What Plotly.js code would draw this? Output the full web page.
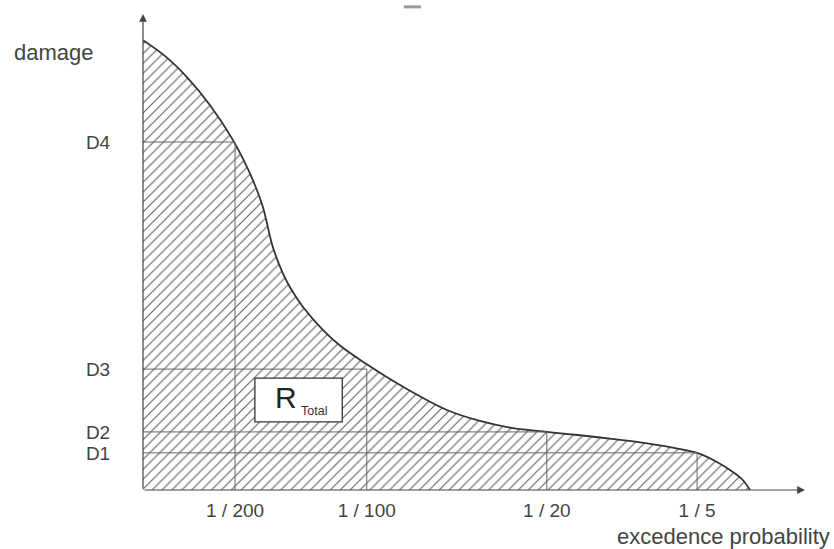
<!DOCTYPE html>
<html>
<head>
<meta charset="utf-8">
<script src="https://cdn.plot.ly/plotly-3.0.1.min.js"></script>
<style>html,body{margin:0;padding:0;background:#fff;}#chart{width:834px;height:549px;}</style>
</head>
<body>
<div id="chart"></div>
<script>
// Damage curve (arbitrary units, x: 0-100 probability scale, y: 0-100 damage scale)
const curveX = [0, 3.3, 6.6, 10.1, 13.6, 16.6, 18.1, 19.6, 21.1, 22.2, 24.2, 27.2, 29.8, 33.7, 37.3, 41.4, 45.9, 50.9, 55.9, 61.0, 66.0, 70.5, 75.1, 79.6, 83.7, 86.7, 89.1, 90.6, 91.7];
const curveY = [94.5, 91.2, 86.8, 80.9, 73.5, 65.1, 59.5, 51.1, 45.6, 42.6, 38.4, 33.6, 30.3, 26.5, 23.3, 20.0, 16.8, 14.5, 13.0, 12.2, 11.5, 10.8, 10.0, 9.0, 7.8, 5.9, 3.8, 2.1, 0];

// Probability ticks and damage levels
const probLabels = ["1 / 200", "1 / 100", "1 / 20", "1 / 5"];
const probPos = [13.9, 33.8, 61.0, 83.7];
const damageLabels = ["D4", "D3", "D2", "D1"];
const damageVals = [73.1, 25.4, 12.2, 7.8];

const traces = [];
traces.push({
  x: curveX, y: curveY, type: 'scatter', mode: 'lines',
  line: {color: '#333', width: 1.8, shape: 'spline', smoothing: 1},
  fill: 'tozeroy', fillcolor: 'rgba(0,0,0,0)',
  fillpattern: {shape: '/', fgcolor: '#666', bgcolor: 'white', size: 7, solidity: 0.17},
  hoverinfo: 'skip', showlegend: false
});
for (let i = 0; i < probPos.length; i++) {
  traces.push({
    x: [0, probPos[i], probPos[i]], y: [damageVals[i], damageVals[i], 0],
    type: 'scatter', mode: 'lines',
    line: {color: '#666', width: 1},
    hoverinfo: 'skip', showlegend: false
  });
}

const font = 'Liberation Sans, Arial, sans-serif';
const layout = {
  width: 834, height: 549,
  margin: {l: 143, r: 29, t: 14, b: 59},
  paper_bgcolor: 'white', plot_bgcolor: 'white',
  showlegend: false,
  xaxis: {
    range: [0, 100], showgrid: false, zeroline: false, showline: false,
    tickvals: probPos, ticktext: probLabels,
    ticks: 'outside', ticklen: 3, tickcolor: 'rgba(0,0,0,0)',
    tickfont: {family: font, size: 19, color: '#444'}
  },
  yaxis: {
    range: [0, 100], showgrid: false, zeroline: false, showline: false,
    tickvals: damageVals, ticktext: damageLabels,
    ticks: 'outside', ticklen: 28, tickcolor: 'rgba(0,0,0,0)',
    tickfont: {family: font, size: 19, color: '#444'}
  },
  shapes: [
    {type: 'rect', xref: 'x', yref: 'y', x0: 16.9, x1: 30.1, y0: 14.3, y1: 23.5,
     fillcolor: 'white', line: {color: '#333', width: 1.3}, layer: 'above'},
    {type: 'line', xref: 'paper', yref: 'paper', x0: 0.394, x1: 0.42, y0: 1.015, y1: 1.015,
     line: {color: '#999', width: 3}}
  ],
  annotations: [
    {xref: 'paper', yref: 'paper', x: 0, y: 1, ax: 0, ay: 476, axref: 'pixel', ayref: 'pixel',
     showarrow: true, arrowhead: 2, arrowsize: 1.3, arrowwidth: 1.2, arrowcolor: '#444', text: ''},
    {xref: 'paper', yref: 'paper', x: 1, y: 0, ax: -662, ay: 0, axref: 'pixel', ayref: 'pixel',
     showarrow: true, arrowhead: 2, arrowsize: 1.3, arrowwidth: 1.2, arrowcolor: '#444', text: ''},
    {xref: 'paper', yref: 'paper', x: -0.198, y: 0.920, xanchor: 'left', yanchor: 'middle',
     text: 'damage', showarrow: false, font: {family: font, size: 22, color: '#444'}},
    {xref: 'paper', yref: 'paper', x: 1.0408, y: -0.0987, xanchor: 'right', yanchor: 'middle',
     text: 'excedence probability', showarrow: false, font: {family: font, size: 22, color: '#444'}},
    {xref: 'x', yref: 'y', x: 21.6, y: 19.4, xanchor: 'center', yanchor: 'middle',
     text: 'R', showarrow: false, font: {family: font, size: 30, color: '#222'}},
    {xref: 'x', yref: 'y', x: 25.8, y: 16.6, xanchor: 'center', yanchor: 'middle',
     text: 'Total', showarrow: false, font: {family: font, size: 12.5, color: '#333'}}
  ]
};

Plotly.newPlot('chart', traces, layout, {staticPlot: true, displayModeBar: false});
</script>
</body>
</html>
